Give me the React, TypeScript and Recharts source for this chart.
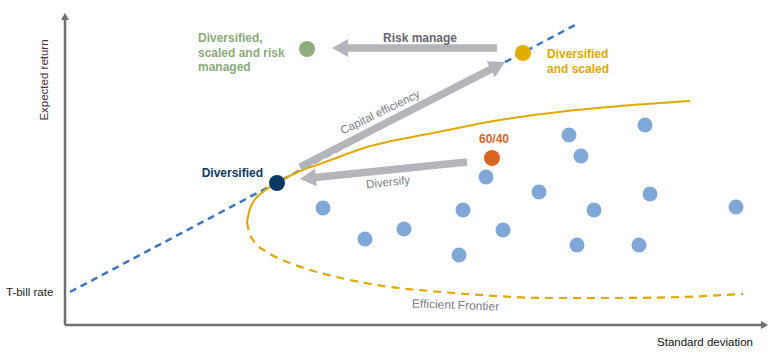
import React from 'react';
import { ComposedChart, XAxis, YAxis, Line, Scatter, Cell, ReferenceLine, ReferenceDot } from 'recharts';

// asset cloud (risk, return) in arbitrary chart units
const cloudSigma = [25.8, 30.0, 33.9, 39.8, 39.4, 42.1, 43.8, 47.4, 50.4, 51.6, 52.9, 51.2, 58.0, 58.5, 57.4, 67.1];
const cloudReturn = [11.7, 8.6, 9.6, 11.5, 7.0, 14.8, 9.5, 13.3, 19.0, 16.9, 11.5, 8.0, 20.0, 13.1, 8.0, 11.8];

const portfolioNames = ['Diversified', '60/40', 'Diversified and scaled', 'Diversified, scaled and risk managed'];
const portfolioSigma = [21.2, 42.7, 45.8, 24.2];
const portfolioReturn = [14.2, 16.7, 27.2, 27.6];
const portfolioColors = ['#0c3a63', '#d8661f', '#e2ab00', '#8fae7d'];

const tBillRate = 3.3;
const cmlSigma = [0.5, 51.2];
const cmlReturn = [tBillRate, 30.1];

// efficient frontier, upper (solid) and lower (dashed) branches
const upperSigma = [18.2, 18.4, 18.9, 19.8, 21.2, 23.5, 25.5, 30.2, 36.8, 43.5, 50.2, 56.8, 62.5];
const upperReturn = [10.3, 11.3, 12.4, 13.3, 14.2, 15.4, 16.1, 17.8, 19.2, 20.5, 21.4, 22.0, 22.4];
const lowerSigma = [18.2, 18.4, 18.8, 20.2, 22.5, 25.2, 28.5, 32.5, 36.5, 41.5, 48.2, 54.8, 61.5, 67.8];
const lowerReturn = [10.3, 9.3, 8.5, 7.3, 6.2, 5.3, 4.5, 3.8, 3.4, 3.0, 2.7, 2.7, 2.8, 3.1];

const toPoints = (xs: number[], ys: number[]) => xs.map((sigma, i) => ({ sigma, ret: ys[i] }));

const cloud = toPoints(cloudSigma, cloudReturn);
const portfolios = toPoints(portfolioSigma, portfolioReturn).map((p, i) => ({ ...p, name: portfolioNames[i] }));
const cml = toPoints(cmlSigma, cmlReturn);
const upper = toPoints(upperSigma, upperReturn);
const lower = toPoints(lowerSigma, lowerReturn);

const FONT = '"Liberation Sans", Arial, Helvetica, sans-serif';
const ARROW_GREY = '#b4b4bb';
const AXIS_GREY = '#6f6f6f';

const moves = [
  { from: [43.2, 27.7], to: [26.7, 27.7] }, // risk manage
  { from: [23.5, 15.8], to: [44.0, 26.3] }, // capital efficiency
  { from: [40.2, 16.3], to: [23.5, 14.6] }, // diversify
];

const notes = [
  { at: [13.3, 28.7], lines: ['Diversified,', 'scaled and risk', 'managed'], color: '#8aab78', weight: 'bold' },
  { at: [48.2, 27.1], lines: ['Diversified', 'and scaled'], color: '#e0a800', weight: 'bold' },
  { at: [19.8, 15.2], lines: ['Diversified'], color: '#0c3a63', weight: 'bold', anchor: 'end' },
  { at: [42.9, 18.6], lines: ['60/40'], color: '#d8661f', weight: 'bold', anchor: 'middle' },
  { at: [35.5, 28.7], lines: ['Risk manage'], color: '#666670', weight: 'bold', anchor: 'middle' },
  { at: [31.5, 21.3], lines: ['Capital efficiency'], color: '#7b7b88', anchor: 'middle', rot: -26, size: 11.5 },
  { at: [32.3, 14.3], lines: ['Diversify'], color: '#7b7b88', anchor: 'middle', rot: -6, size: 11.5 },
  { at: [39.05, 2.0], lines: ['Efficient Frontier'], color: '#7b7b88', anchor: 'middle', rot: 2, size: 12 },
  { at: [-5.9, tBillRate], lines: ['T-bill rate'], color: '#222222', size: 11.5 },
  { at: [-2.1, 24.5], lines: ['Expected return'], color: '#4b2a3c', anchor: 'middle', rot: -90, size: 11.5 },
  { at: [64.0, -1.7], lines: ['Standard deviation'], color: '#111111', anchor: 'middle', size: 11.5 },
];

const ArrowShape = (props: any) => {
  const { x1, y1, x2, y2, color, shaft, headLen, headHalf } = props;
  const dx = x2 - x1;
  const dy = y2 - y1;
  const len = Math.hypot(dx, dy) || 1;
  const ux = dx / len;
  const uy = dy / len;
  const bx = x2 - ux * headLen;
  const by = y2 - uy * headLen;
  return (
    <g>
      <line x1={x1} y1={y1} x2={bx + ux} y2={by + uy} stroke={color} strokeWidth={shaft} />
      <polygon
        points={`${x2},${y2} ${bx - uy * headHalf},${by + ux * headHalf} ${bx + uy * headHalf},${by - ux * headHalf}`}
        fill={color}
      />
    </g>
  );
};

const Note = (props: any) => {
  const { viewBox, lines, color, size = 12, weight = 'normal', anchor = 'start', rot = 0 } = props;
  const cx = viewBox.x + (viewBox.width || 0) / 2;
  const cy = viewBox.y + (viewBox.height || 0) / 2;
  return (
    <text
      x={cx}
      y={cy}
      fill={color}
      fontSize={size}
      fontWeight={weight}
      fontFamily={FONT}
      textAnchor={anchor}
      dominantBaseline="central"
      transform={rot ? `rotate(${rot} ${cx} ${cy})` : undefined}
    >
      {lines.map((l: string, i: number) => (
        <tspan key={i} x={cx} dy={i === 0 ? 0 : 14.5}>
          {l}
        </tspan>
      ))}
    </text>
  );
};

export default function App() {
  return (
    <div style={{ position: 'absolute', left: 0, top: 0, width: 770, height: 362, background: '#fff' }}>
      <ComposedChart width={770} height={362} margin={{ top: 15, right: 5, bottom: 37, left: 65 }}>
        <XAxis type="number" dataKey="sigma" domain={[0, 70]} hide />
        <YAxis type="number" dataKey="ret" domain={[0, 31]} hide />

        {/* axes with arrow heads */}
        <ReferenceLine
          segment={[{ x: 0, y: 0 }, { x: 0, y: 31.2 }]}
          ifOverflow="visible"
          shape={(p: any) => <ArrowShape {...p} color={AXIS_GREY} shaft={2.5} headLen={7} headHalf={4} />}
        />
        <ReferenceLine
          segment={[{ x: 0, y: 0 }, { x: 70.3, y: 0 }]}
          ifOverflow="visible"
          shape={(p: any) => <ArrowShape {...p} color={AXIS_GREY} shaft={2.5} headLen={7} headHalf={4} />}
        />

        <Line data={cml} dataKey="ret" stroke="#3b78c0" strokeWidth={2.5} strokeDasharray="7 5" dot={false} activeDot={false} isAnimationActive={false} />
        <Line data={upper} dataKey="ret" type="monotoneX" stroke="#e0a800" strokeWidth={2} dot={false} activeDot={false} isAnimationActive={false} />
        <Line data={lower} dataKey="ret" type="monotoneX" stroke="#e0a800" strokeWidth={2.2} strokeDasharray="8 6" dot={false} activeDot={false} isAnimationActive={false} />

        {moves.map((m, i) => (
          <ReferenceLine
            key={i}
            segment={[{ x: m.from[0], y: m.from[1] }, { x: m.to[0], y: m.to[1] }]}
            ifOverflow="visible"
            shape={(p: any) => <ArrowShape {...p} color={ARROW_GREY} shaft={7.5} headLen={16} headHalf={9} />}
          />
        ))}

        <Scatter data={cloud} fill="#7fa8d8" isAnimationActive={false} shape={(p: any) => <circle cx={p.cx} cy={p.cy} r={7.5} fill="#7fa8d8" />} />
        <Scatter data={portfolios} isAnimationActive={false} shape={(p: any) => <circle cx={p.cx} cy={p.cy} r={8} fill={p.fill} />}>
          {portfolios.map((p, i) => (
            <Cell key={p.name} fill={portfolioColors[i]} />
          ))}
        </Scatter>

        {notes.map((n, i) => (
          <ReferenceDot
            key={i}
            x={n.at[0]}
            y={n.at[1]}
            r={0}
            fill="none"
            stroke="none"
            ifOverflow="visible"
            label={<Note lines={n.lines} color={n.color} weight={n.weight} anchor={n.anchor} rot={n.rot} size={n.size} />}
          />
        ))}
      </ComposedChart>
    </div>
  );
}
